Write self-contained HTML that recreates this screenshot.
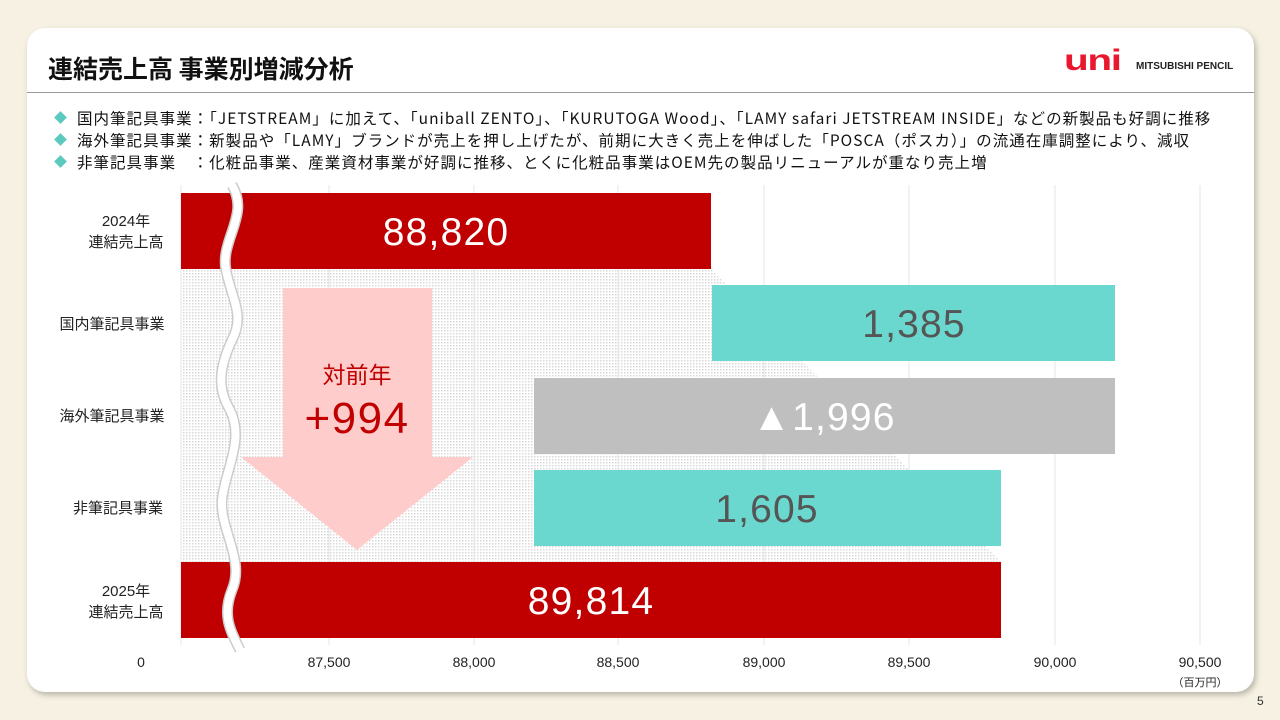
<!DOCTYPE html>
<html><head><meta charset="utf-8"><style>
body{margin:0;width:1280px;height:720px;background:#f6f1e2;font-family:"Liberation Sans","Noto Sans CJK JP",sans-serif;overflow:hidden;position:relative}
.card{position:absolute;left:27px;top:28px;width:1227px;height:664px;background:#fff;border-radius:18px;box-shadow:2px 3px 6px rgba(0,0,0,.25)}
.title{position:absolute;left:48px;top:50px;font-size:25px;font-weight:bold;color:#111;font-family:"Noto Sans CJK JP",sans-serif}
.rule{position:absolute;left:27px;top:92px;width:1227px;height:1px;background:#999}
.bul{position:absolute;left:56px;font-size:15.5px;letter-spacing:1.02px;color:#111;font-family:"Noto Sans CJK JP",sans-serif;line-height:20px;white-space:nowrap}
.bul b{display:inline-block;width:9px;height:9px;background:#5cc9bf;transform:rotate(45deg);margin-right:12px;vertical-align:2px}
.logo{position:absolute;left:1064px;top:46px;color:#e8182e;font-weight:900;font-size:30px;letter-spacing:-1px;line-height:30px;transform:scaleX(1.35);transform-origin:left}
.logo2{position:absolute;left:1136px;top:61px;font-size:10px;font-weight:bold;color:#222}
.pg{position:absolute;left:1257px;top:694px;font-size:12px;color:#333}
</style></head><body>
<div class="card"></div>
<div class="title">連結売上高 事業別増減分析</div>
<div class="logo">uni</div><div class="logo2">MITSUBISHI PENCIL</div>
<div class="rule"></div>
<div class="bul" style="top:108px"><b></b>国内筆記具事業：「JETSTREAM」に加えて、「uniball ZENTO」、「KURUTOGA Wood」、「LAMY safari JETSTREAM INSIDE」などの新製品も好調に推移</div>
<div class="bul" style="top:130px"><b></b>海外筆記具事業：新製品や「LAMY」ブランドが売上を押し上げたが、前期に大きく売上を伸ばした「POSCA（ポスカ）」の流通在庫調整により、減収</div>
<div class="bul" style="top:152px"><b></b>非筆記具事業　：化粧品事業、産業資材事業が好調に推移、とくに化粧品事業はOEM先の製品リニューアルが重なり売上増</div>
<svg style="position:absolute;left:0;top:0" width="1280" height="720" font-family="Liberation Sans, Noto Sans CJK JP, sans-serif">
<defs><pattern id="d" width="3" height="3" patternUnits="userSpaceOnUse"><rect width="3" height="3" fill="#fff"/><rect width="1.5" height="1.5" fill="#d8d8d8"/></pattern></defs>
<polygon points="181,269 711,269 1001,562 181,562" fill="url(#d)"/>
<g stroke="#e4e4e4" stroke-width="1">
<line x1="329" y1="185" x2="329" y2="645"/><line x1="474" y1="185" x2="474" y2="645"/><line x1="618" y1="185" x2="618" y2="645"/><line x1="764" y1="185" x2="764" y2="645"/><line x1="909" y1="185" x2="909" y2="645"/><line x1="1055" y1="185" x2="1055" y2="645"/><line x1="1200" y1="185" x2="1200" y2="645"/><line x1="181" y1="185" x2="181" y2="645"/>
</g>
<rect x="181" y="193" width="530" height="76" fill="#c00000"/>
<rect x="712" y="285" width="403" height="76" fill="#6ad8cf"/>
<rect x="534" y="378" width="581" height="76" fill="#bfbfbf"/>
<rect x="534" y="470" width="467" height="76" fill="#6ad8cf"/>
<rect x="181" y="562" width="820" height="76" fill="#c00000"/>
<polygon points="283,288 432,288 432,457 473,457 357,550 241,457 283,457" fill="#ffcccc"/>
<text x="357" y="383" font-size="23" fill="#c00000" text-anchor="middle">対前年</text>
<text x="357" y="433" font-size="44" fill="#c00000" text-anchor="middle" letter-spacing="1.5">+994</text>
<path d="M232,185 C250,215 220,240 226,270 C232,300 245,315 232,340 C218,370 218,390 230,410 C245,440 225,470 222,500 C220,530 245,560 232,590 C222,615 230,630 240,650" fill="none" stroke="#ccc" stroke-width="11"/>
<path d="M232,185 C250,215 220,240 226,270 C232,300 245,315 232,340 C218,370 218,390 230,410 C245,440 225,470 222,500 C220,530 245,560 232,590 C222,615 230,630 240,650" fill="none" stroke="#fff" stroke-width="8"/>
<g font-size="39" text-anchor="middle" letter-spacing="1.2">
<text x="446" y="245" fill="#fff">88,820</text>
<text x="914" y="337" fill="#555">1,385</text>
<text x="824" y="430" fill="#fff">▲1,996</text>
<text x="767" y="522" fill="#555">1,605</text>
<text x="591" y="614" fill="#fff">89,814</text>
</g>
<g font-size="15" fill="#222" text-anchor="middle">
<text x="126" y="226">2024年</text><text x="126" y="247">連結売上高</text>
<text x="112" y="329">国内筆記具事業</text>
<text x="112" y="421">海外筆記具事業</text>
<text x="118" y="513">非筆記具事業</text>
<text x="126" y="596">2025年</text><text x="126" y="617">連結売上高</text>
</g>
<g font-size="14" fill="#222" text-anchor="middle">
<text x="141" y="667">0</text><text x="329" y="667">87,500</text><text x="474" y="667">88,000</text><text x="618" y="667">88,500</text><text x="764" y="667">89,000</text><text x="909" y="667">89,500</text><text x="1055" y="667">90,000</text><text x="1200" y="667">90,500</text>
<text x="1200" y="686" font-size="11">（百万円）</text>
</g>
</svg>
<div class="pg">5</div>
</body></html>
